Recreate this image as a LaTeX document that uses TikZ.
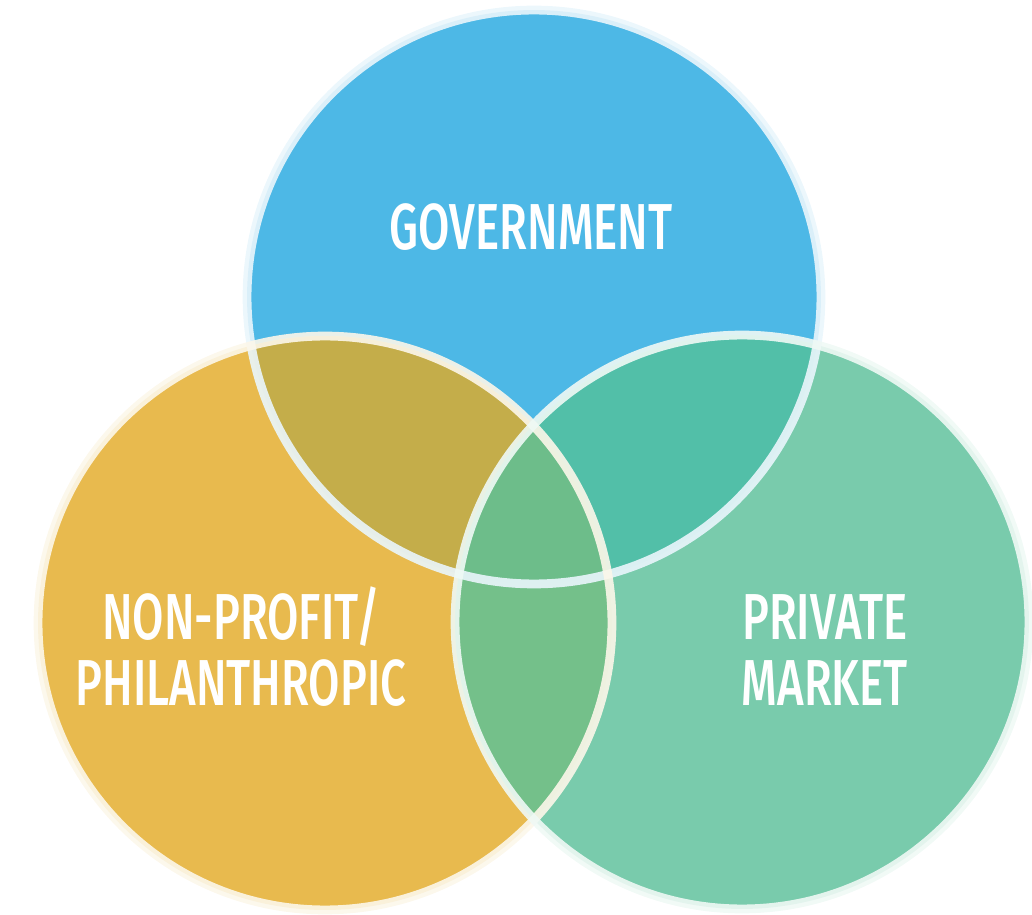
\documentclass[tikz,border=0pt]{standalone}
\usepackage{fontspec}
\setmainfont{Fira Sans}[FakeStretch=0.7, BoldFont={Fira Sans Medium}]

\definecolor{govblue}{HTML}{4DB8E6}
\definecolor{npyellow}{HTML}{E8BA4E}
\definecolor{pvtgreen}{HTML}{79CBAC}
\definecolor{govnp}{HTML}{C4AD4A}
\definecolor{govpvt}{HTML}{52BFA8}
\definecolor{nppvt}{HTML}{74C08A}
\definecolor{allthree}{HTML}{6DBD8A}

\tikzset{
  rim/.style={line width=5pt, opacity=0.9},
  label/.style={text=white, font=\bfseries\fontsize{37}{37}\selectfont, align=center, inner sep=0pt}
}

\begin{document}
\begin{tikzpicture}[x=0.02cm, y=-0.02cm]
  \useasboundingbox (0,0) rectangle (1032,915);
  \def\rad{5.74cm}

  % circle centres
  \coordinate (g) at (534,297);
  \coordinate (n) at (325,623);
  \coordinate (p) at (742,622);

  % base discs
  \fill[govblue] (g) circle (\rad);
  \fill[npyellow] (n) circle (\rad);
  \fill[pvtgreen] (p) circle (\rad);

  % pairwise overlaps
  \begin{scope}
    \clip (g) circle (\rad);
    \fill[govnp] (n) circle (\rad);
    \fill[govpvt] (p) circle (\rad);
  \end{scope}
  \begin{scope}
    \clip (n) circle (\rad);
    \fill[nppvt] (p) circle (\rad);
  \end{scope}
  % middle
  \begin{scope}
    \clip (g) circle (\rad);
    \clip (n) circle (\rad);
    \fill[allthree] (p) circle (\rad);
  \end{scope}

  % light rims
  \draw[rim, color=govblue!12!white] (g) circle (\rad);
  \draw[rim, color=npyellow!12!white] (n) circle (\rad);
  \draw[rim, color=pvtgreen!12!white] (p) circle (\rad);

  % labels
  \node[label, anchor=base] (govtxt) at (531,250) {GOVERNMENT};
  \node[label, anchor=base] (nptxt1) at (241,640) {NON-PROFIT/};
  \node[label, anchor=base] (nptxt2) at (241,705) {PHILANTHROPIC};
  \node[label, anchor=base] (pvttxt1) at (825,640) {PRIVATE};
  \node[label, anchor=base] (pvttxt2) at (825,705) {MARKET};
\end{tikzpicture}
\end{document}
